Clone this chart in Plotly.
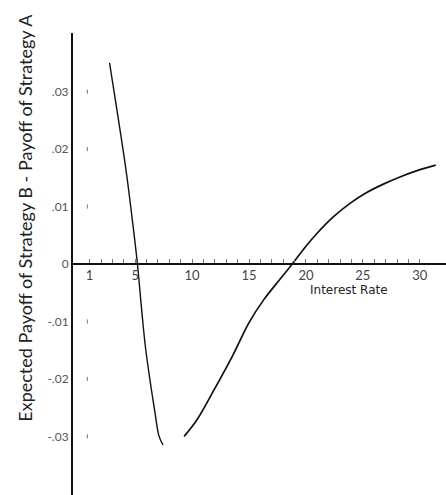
import plotly.graph_objects as go

# Left branch of the curve
left_rate = [2.75, 3.5, 4.2, 4.7, 5.2, 5.6, 5.9, 6.3, 6.75, 7.1, 7.45]
left_payoff = [0.035, 0.0255, 0.0163, 0.0085, 0.0, -0.0086, -0.0144, -0.0202, -0.026, -0.030, -0.0315]

# Right branch of the curve
right_rate = [9.3, 10.4, 11.9, 13.6, 15.0, 16.3, 17.7, 18.8, 20.0, 21.0, 22.4, 23.9, 25.3, 26.8, 28.2, 29.7, 31.4]
right_payoff = [-0.030, -0.0272, -0.0220, -0.0158, -0.0102, -0.0062, -0.0027, 0.0, 0.0031, 0.0054, 0.0082,
                0.0106, 0.0124, 0.0139, 0.0151, 0.0162, 0.0172]

x_tickvals = list(range(1, 31))
x_ticktext = [str(v) if v in (1, 5, 10, 15, 20, 25, 30) else "" for v in x_tickvals]
y_tickvals = [0.03, 0.02, 0.01, 0, -0.01, -0.02, -0.03]
y_ticktext = [".03", ".02", ".01", "0", "-.01", "-.02", "-.03"]

x_range = [-0.46, 32.3]
y_range = [-0.0402, 0.0402]

FONT = "Lato, 'DejaVu Sans', sans-serif"
WIDE = "'DejaVu Sans', sans-serif"

fig = go.Figure()
fig.add_trace(go.Scatter(x=left_rate, y=left_payoff, mode="lines",
                         line=dict(color="#111", width=1.4, shape="spline", smoothing=1.0),
                         showlegend=False, hoverinfo="skip"))
fig.add_trace(go.Scatter(x=right_rate, y=right_payoff, mode="lines",
                         line=dict(color="#111", width=1.7, shape="spline", smoothing=1.0),
                         showlegend=False, hoverinfo="skip"))
# small y tick dots just right of the vertical axis
dot_vals = [v for v in y_tickvals if v != 0]
fig.add_trace(go.Scatter(x=[0.8] * len(dot_vals), y=dot_vals,
                         mode="markers", marker=dict(symbol="line-ns", size=3,
                                                     line=dict(color="#777", width=1)),
                         showlegend=False, hoverinfo="skip"))

x_pos = (0 - y_range[0]) / (y_range[1] - y_range[0])

fig.update_layout(
    width=446, height=495,
    margin=dict(l=73, r=0, t=33, b=0),
    paper_bgcolor="white", plot_bgcolor="white",
    font=dict(family=FONT, color="#333"),
    xaxis=dict(range=x_range, showgrid=False, zeroline=False,
               anchor="free", position=x_pos,
               showline=True, linecolor="#111", linewidth=1.6,
               tickmode="array", tickvals=x_tickvals, ticktext=x_ticktext,
               ticks="inside", ticklen=4, tickwidth=1, tickcolor="#777",
               ticklabeloverflow="allow",
               tickfont=dict(size=13, color="#444", family=FONT)),
    yaxis=dict(range=y_range, showgrid=False, zeroline=False,
               showline=True, linecolor="#111", linewidth=2,
               tickmode="array", tickvals=y_tickvals, ticktext=y_ticktext,
               ticks="", tickfont=dict(size=12, color="#555", family=FONT)),
    annotations=[
        dict(text="Expected Payoff of Strategy B - Payoff of Strategy A",
             xref="paper", yref="paper", x=-0.129, y=0.60, textangle=-90,
             showarrow=False, xanchor="center", yanchor="middle",
             font=dict(size=18, color="#222", family=FONT)),
        dict(text="Interest Rate", xref="x", yref="y", x=23.75, y=-0.0045,
             showarrow=False, xanchor="center", yanchor="middle",
             font=dict(size=12, color="#222", family=WIDE)),
    ],
)

fig.write_html("out.html", config={"displayModeBar": False},
               post_script="document.body.style.margin='0px';")
